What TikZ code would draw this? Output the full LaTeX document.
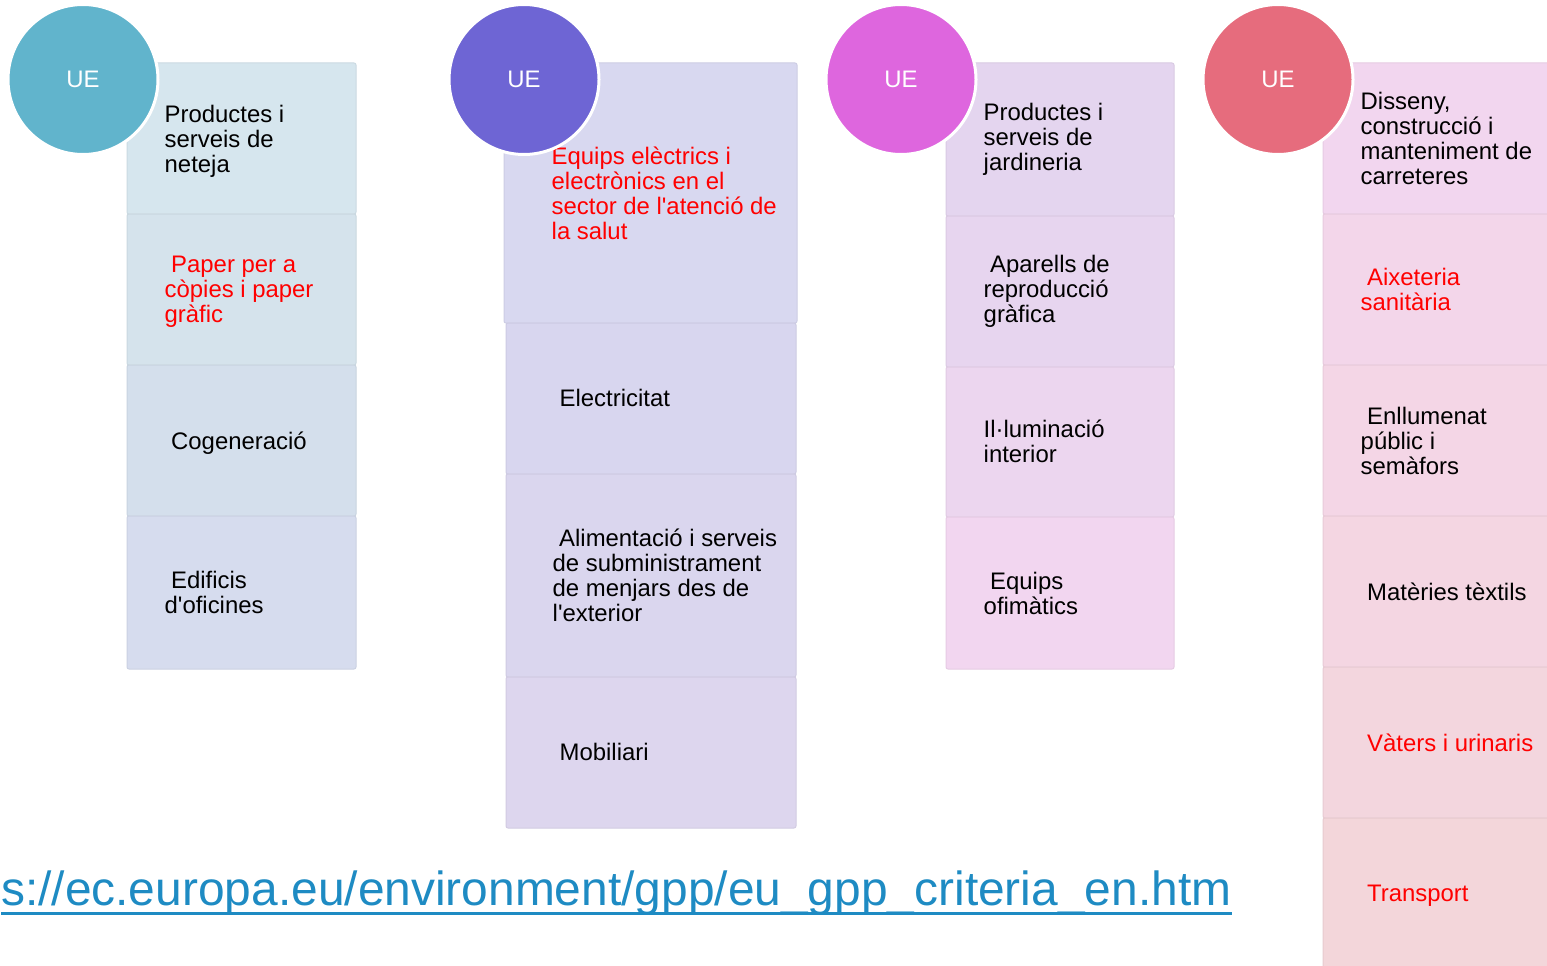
\documentclass[tikz,border=0pt]{standalone}
\usepackage{fontspec}
\setmainfont{Liberation Sans}[Ligatures=TeXOff]
\definecolor{ueA}{HTML}{61B4CC}
\definecolor{ueB}{HTML}{6E65D4}
\definecolor{ueC}{HTML}{DE66DE}
\definecolor{ueD}{HTML}{E66C7D}
\definecolor{aA}{HTML}{D6E6EE}
\definecolor{aB}{HTML}{D5E3EC}
\definecolor{aC}{HTML}{D4DFEC}
\definecolor{aD}{HTML}{D6DCEE}
\definecolor{bA}{HTML}{D8D8F0}
\definecolor{bB}{HTML}{D8D6EF}
\definecolor{bC}{HTML}{DAD6EE}
\definecolor{bD}{HTML}{DDD6EE}
\definecolor{cA}{HTML}{E4D5EF}
\definecolor{cB}{HTML}{E7D5EF}
\definecolor{cC}{HTML}{ECD6EF}
\definecolor{cD}{HTML}{F2D6F0}
\definecolor{dA}{HTML}{F2D6EF}
\definecolor{dB}{HTML}{F3D6EA}
\definecolor{dC}{HTML}{F4D6E6}
\definecolor{dD}{HTML}{F4D6E2}
\definecolor{dE}{HTML}{F3D6DE}
\definecolor{dF}{HTML}{F3D6DA}
\definecolor{urlblue}{HTML}{1E8BC3}
\definecolor{redtxt}{HTML}{FF0000}
\tikzset{
  cell/.style={rectangle, inner sep=0pt, rounded corners=2pt, line width=1pt, fill=#1, draw=#1!95!black},
  txt/.style={anchor=west, inner sep=0pt, align=left, font=\fontsize{23.9}{25}\selectfont},
  redt/.style={txt, text=redtxt},
  uecirc/.style={circle, inner sep=0pt, minimum size=150pt, fill=#1, draw=white, line width=3pt, text=white, font=\fontsize{23.9}{25}\selectfont},
  urltxt/.style={anchor=base west, inner sep=0pt, text=urlblue, font=\fontsize{47.9}{52}\selectfont},
  ulline/.style={draw=urlblue, line width=3pt}
}
\newcommand{\ind}{\hspace*{6.5pt}}
\begin{document}
\begin{tikzpicture}[x=1pt,y=-1pt]
\useasboundingbox (0,0) rectangle (1547,966);
\fill[white] (0,0) rectangle (1547,966);
% column 1
\node[cell=aA, minimum width=229pt, minimum height=151pt] (a1) at (241.5,138.5) {};
\node[cell=aB, minimum width=229pt, minimum height=151pt] (a2) at (241.5,289.5) {};
\node[cell=aC, minimum width=229pt, minimum height=151pt] (a3) at (241.5,440.5) {};
\node[cell=aD, minimum width=229pt, minimum height=153pt] (a4) at (241.5,592.5) {};
\node[txt] (ta1) at ([xshift=38pt,yshift=-2.5pt]a1.west) {Productes i\\serveis de\\neteja};
\node[redt] (ta2) at ([xshift=38pt,yshift=-2.5pt]a2.west) {\ind Paper per a\\còpies i paper\\gràfic};
\node[txt] (ta3) at ([xshift=44.5pt,yshift=-2.5pt]a3.west) {Cogeneració};
\node[txt] (ta4) at ([xshift=38pt]a4.west) {\ind Edificis\\d'oficines};
\node[uecirc=ueA] (ue1) at (83,79.5) {UE};
% column 2
\node[cell=bA, minimum width=293pt, minimum height=260pt] (b1) at (650.5,193) {};
\node[cell=bB, minimum width=290pt, minimum height=151pt] (b2) at (651,398.5) {};
\node[cell=bC, minimum width=290pt, minimum height=203pt] (b3) at (651,575.5) {};
\node[cell=bD, minimum width=290pt, minimum height=151pt] (b4) at (651,752.5) {};
\node[redt] (tb1) at ([xshift=48pt]b1.west) {Equips elèctrics i\\electrònics en el\\sector de l'atenció de\\la salut};
\node[txt] (tb2) at ([xshift=54pt,yshift=1pt]b2.west) {Electricitat};
\node[txt] (tb3) at ([xshift=47pt]b3.west) {\ind Alimentació i serveis\\de subministrament\\de menjars des de\\l'exterior};
\node[txt] (tb4) at ([xshift=54pt,yshift=1pt]b4.west) {Mobiliari};
\node[uecirc=ueB] (ue2) at (524,79.5) {UE};
% column 3
\node[cell=cA, minimum width=228pt, minimum height=153pt] (c1) at (1060,139.5) {};
\node[cell=cB, minimum width=228pt, minimum height=151pt] (c2) at (1060,291.5) {};
\node[cell=cC, minimum width=228pt, minimum height=150pt] (c3) at (1060,442) {};
\node[cell=cD, minimum width=228pt, minimum height=152pt] (c4) at (1060,593) {};
\node[txt] (tc1) at ([xshift=38pt]c1.west) {Productes i\\serveis de\\jardineria};
\node[txt] (tc2) at ([xshift=38pt]c2.west) {\ind Aparells de\\reproducció\\gràfica};
\node[txt] (tc3) at ([xshift=38pt,yshift=0.5pt]c3.west) {Il·luminació\\interior};
\node[txt] (tc4) at ([xshift=38pt]c4.west) {\ind Equips\\ofimàtics};
\node[uecirc=ueC] (ue3) at (901,79.5) {UE};
% column 4
\node[cell=dA, minimum width=230pt, minimum height=151pt] (d1) at (1438,138.5) {};
\node[cell=dB, minimum width=230pt, minimum height=151pt] (d2) at (1438,289.5) {};
\node[cell=dC, minimum width=230pt, minimum height=151pt] (d3) at (1438,440.5) {};
\node[cell=dD, minimum width=230pt, minimum height=151pt] (d4) at (1438,591.5) {};
\node[cell=dE, minimum width=230pt, minimum height=151pt] (d5) at (1438,742.5) {};
\node[cell=dF, minimum width=230pt, minimum height=151pt] (d6) at (1438,893.5) {};
\node[txt] (td1) at ([xshift=38pt]d1.west) {Disseny,\\construcció i\\manteniment de\\carreteres};
\node[redt] (td2) at ([xshift=38pt]d2.west) {\ind Aixeteria\\sanitària};
\node[txt] (td3) at ([xshift=38pt]d3.west) {\ind Enllumenat\\públic i\\semàfors};
\node[txt] (td4) at ([xshift=44.5pt]d4.west) {Matèries tèxtils};
\node[redt] (td5) at ([xshift=44.5pt]d5.west) {Vàters i urinaris};
\node[redt] (td6) at ([xshift=44.5pt,yshift=-2pt]d6.west) {Transport};
\node[uecirc=ueD] (ue4) at (1278,79.5) {UE};
% url
\node[urltxt] (url) at (1,905) {s://ec.europa.eu/environment/gpp/eu\_gpp\_criteria\_en.htm};
\draw[ulline] ([yshift=-8pt]url.base west) -- ([yshift=-8pt]url.base east);
\end{tikzpicture}
\end{document}
